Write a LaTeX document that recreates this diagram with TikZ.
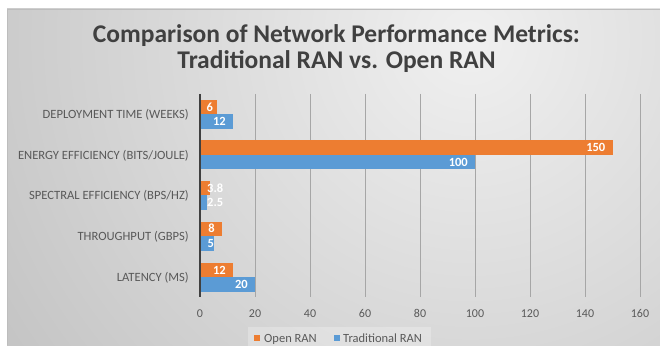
\documentclass[tikz,border=0pt]{standalone}
\usepackage{fontspec}
\setmainfont{Carlito}
\definecolor{orangebar}{HTML}{ED7D31}
\definecolor{bluebar}{HTML}{5B9BD5}
\definecolor{titlegray}{HTML}{404040}
\definecolor{labelgray}{HTML}{595959}
\definecolor{gridgray}{HTML}{A6A6A6}
\definecolor{bgin}{HTML}{F0F0F0}
\definecolor{bgout}{HTML}{C4C4C4}
\definecolor{bgedge}{HTML}{BDBDBD}
\tikzset{
  titletext/.style={font=\fontsize{25.5}{28}\selectfont\bfseries, text=titlegray, inner sep=0pt, anchor=base},
  catlabel/.style={font=\fontsize{12.6}{14}\selectfont, text=labelgray, inner sep=0pt, anchor=base east},
  ticklabel/.style={font=\fontsize{12}{14}\selectfont, text=labelgray, inner sep=0pt, anchor=base},
  vallabel/.style={font=\fontsize{12.5}{14}\selectfont\bfseries, text=white, inner sep=0pt},
  legendtext/.style={font=\fontsize{12.5}{14}\selectfont, text=labelgray, inner sep=0pt, anchor=base west},
  gridline/.style={draw=gridgray, line width=0.8pt},
  axisline/.style={draw=titlegray, line width=1.2pt},
  obar/.style={fill=orangebar},
  bbar/.style={fill=bluebar},
}
% value axis: 0 at x=200, 2.75 units per 1
\newcommand{\vx}[1]{200+2.75*#1}
\begin{document}
\begin{tikzpicture}[x=1pt,y=-1pt]
\useasboundingbox (0,0) rectangle (660,355);
\fill[white] (0,0) rectangle (660,355);
% chart background with soft radial gradient
\begin{scope}
  \clip (7,9) rectangle (660,345);
  \shade[inner color=bgin, outer color=bgout] (470,40) circle (560);
\end{scope}
\draw[bgedge, line width=0.6pt] (7,345) -- (7,9) -- (660,9);

% title
\node[titletext] (title1) at (336.5,43) {Comparison of Network Performance Metrics:};
\node[titletext] (title2) at (336.5,69) {Traditional RAN vs. Open RAN};

% gridlines and tick labels
\foreach \v in {20,40,...,160}{
  \draw[gridline] ({\vx{\v}},94) -- ({\vx{\v}},297);
}
\foreach \v in {0,20,...,160}{
  \node[ticklabel] (tick\v) at ({\vx{\v}},317) {\v};
}

% bars: orange above, blue below each category centre
\foreach \c/\o/\b [count=\i] in {114.3/6/12, 155/150/100, 195.5/3.8/2.5, 236/8/5, 277/12/20}{
  \fill[obar] (200,{\c-14.5}) rectangle ({\vx{\o}},\c);
  \fill[bbar] (200,\c) rectangle ({\vx{\b}},{\c+14.5});
}
\draw[axisline] (200,94) -- (200,297);

% category labels
\node[catlabel] (cat1) at (189,118.5) {DEPLOYMENT TIME (WEEKS)};
\node[catlabel] (cat2) at (189,159.2) {ENERGY EFFICIENCY (BITS/JOULE)};
\node[catlabel] (cat3) at (189,199.7) {SPECTRAL EFFICIENCY (BPS/HZ)};
\node[catlabel] (cat4) at (189,240.2) {THROUGHPUT (GBPS)};
\node[catlabel] (cat5) at (189,281.2) {LATENCY (MS)};

% value labels
\node[vallabel, anchor=base west] (v1o) at (206.5,111.3) {6};
\node[vallabel, anchor=base east] (v1b) at ({\vx{12}-7},125.8) {12};
\node[vallabel, anchor=base east] (v2o) at ({\vx{150}-7},152) {150};
\node[vallabel, anchor=base east] (v2b) at ({\vx{100}-7},166.5) {100};
\node[vallabel, anchor=base west] (v3o) at (207,192.5) {3.8};
\node[vallabel, anchor=base west] (v3b) at (207,207) {2.5};
\node[vallabel, anchor=base east] (v4o) at ({\vx{8}-7},233) {8};
\node[vallabel, anchor=base west] (v4b) at (207.5,247.5) {5};
\node[vallabel, anchor=base east] (v5o) at ({\vx{12}-7},274) {12};
\node[vallabel, anchor=base east] (v5b) at ({\vx{20}-7},288.5) {20};

% legend
\fill[white, opacity=0.25] (248,327) rectangle (431,347);
\fill[orangebar] (254,335) rectangle (260,341);
\node[legendtext] (leg1) at (264,342.3) {Open RAN};
\fill[bluebar] (334,335) rectangle (340,341);
\node[legendtext] (leg2) at (343,342.3) {Traditional RAN};
\end{tikzpicture}
\end{document}
